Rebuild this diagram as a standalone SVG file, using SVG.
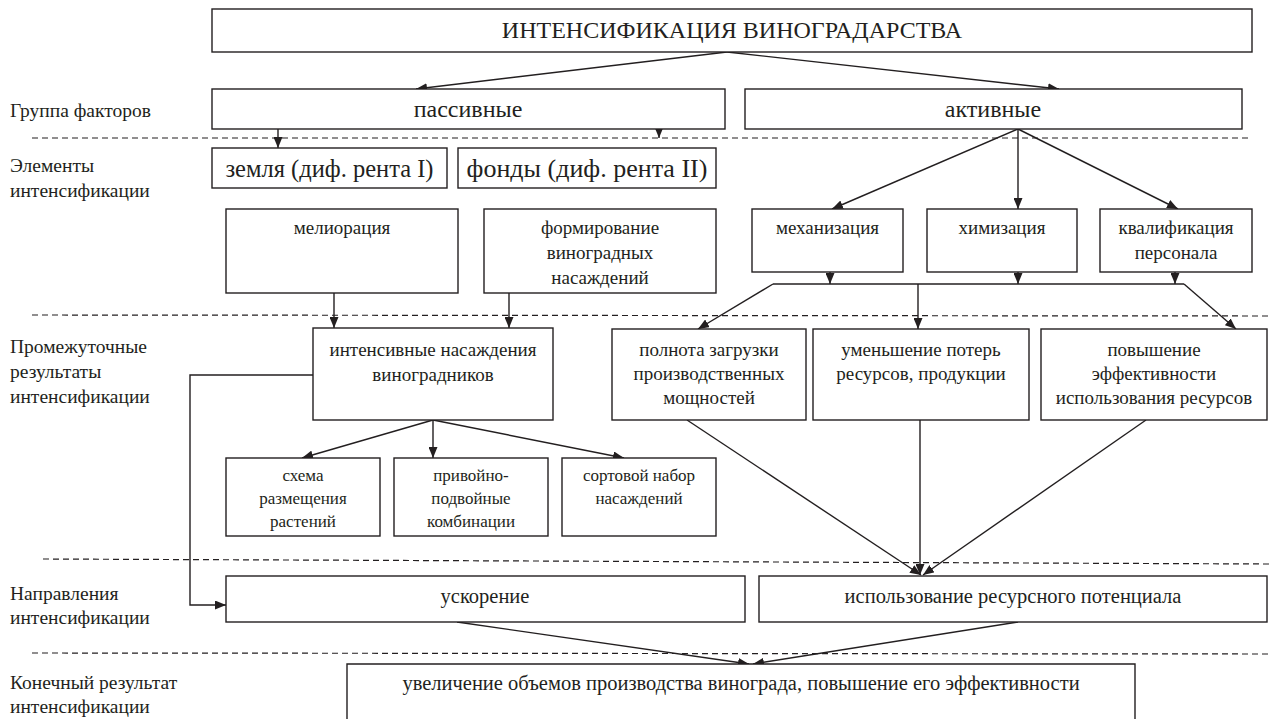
<svg xmlns="http://www.w3.org/2000/svg" width="1269" height="719" viewBox="0 0 1269 719" font-family="'Liberation Serif', 'DejaVu Serif', serif">
<defs>
<marker id="ah" markerUnits="userSpaceOnUse" markerWidth="11" markerHeight="9" refX="11" refY="4.5" orient="auto">
<path d="M0,0 L11,4.5 L0,9 z" fill="#231f20"/>
</marker>
<style>
.bx{fill:#fff;stroke:#231f20;stroke-width:1.4}
.ln{fill:none;stroke:#231f20;stroke-width:1.4}
.ar{fill:none;stroke:#231f20;stroke-width:1.4;marker-end:url(#ah)}
.dash{fill:none;stroke:#231f20;stroke-width:1.2;stroke-dasharray:6 4}
text{fill:#231f20}
.c{text-anchor:middle}
.lab{font-size:19.5px}
.t24{font-size:24px}
.t19{font-size:19px}
.t17{font-size:17px}
.t20{font-size:20.5px}
</style>
</defs>
<rect width="1269" height="719" fill="#fff"/>

<g id="levels">
<line class="dash" x1="32" y1="138" x2="1252" y2="138"/>
<line class="dash" x1="32" y1="315" x2="1269" y2="316"/>
<line class="dash" x1="43" y1="559" x2="1269" y2="564"/>
<line class="dash" x1="32" y1="653" x2="1269" y2="654"/>
</g>

<g id="labels" class="lab">
<text x="10" y="117">Группа факторов</text>
<text x="10" y="172">Элементы</text>
<text x="10" y="197">интенсификации</text>
<text x="10" y="353">Промежуточные</text>
<text x="10" y="378">результаты</text>
<text x="10" y="403">интенсификации</text>
<text x="10" y="600">Направления</text>
<text x="10" y="624">интенсификации</text>
<text x="10" y="689">Конечный результат</text>
<text x="10" y="713">интенсификации</text>
</g>

<g id="connectors">
<line class="ar" x1="727" y1="52" x2="416" y2="89"/>
<line class="ar" x1="727" y1="52" x2="1059" y2="89"/>
<line class="ar" x1="278" y1="129" x2="278" y2="148"/>
<line class="ar" x1="659" y1="129" x2="659" y2="138"/>
<line class="ar" x1="1018" y1="129" x2="832" y2="209"/>
<line class="ar" x1="1018" y1="129" x2="1018" y2="209"/>
<line class="ar" x1="1018" y1="129" x2="1178" y2="209"/>
<line class="ar" x1="334" y1="293" x2="334" y2="328"/>
<line class="ar" x1="509" y1="293" x2="509" y2="328"/>
<line class="ar" x1="830" y1="272" x2="830" y2="284"/>
<line class="ar" x1="1018" y1="272" x2="1018" y2="284"/>
<line class="ar" x1="1175" y1="272" x2="1175" y2="284"/>
<line class="ln" x1="773" y1="284" x2="1184" y2="284"/>
<line class="ar" x1="773" y1="284" x2="698" y2="329"/>
<line class="ar" x1="918" y1="284" x2="918" y2="329"/>
<line class="ar" x1="1184" y1="284" x2="1236" y2="329"/>
<polyline class="ar" points="313,375 190,375 190,605 226,605"/>
<line class="ar" x1="433" y1="420" x2="302" y2="458"/>
<line class="ar" x1="433" y1="420" x2="433" y2="458"/>
<line class="ar" x1="433" y1="420" x2="624" y2="458"/>
<line class="ar" x1="687" y1="420" x2="921" y2="575"/>
<line class="ar" x1="920" y1="420" x2="920" y2="575"/>
<line class="ar" x1="1146" y1="420" x2="923" y2="575"/>
<line class="ar" x1="457" y1="622" x2="749" y2="664"/>
<line class="ar" x1="1018" y1="622" x2="753" y2="664"/>
</g>

<g id="n-title"><rect class="bx" x="212" y="9" width="1040" height="43"/><text class="c t24" x="732" y="38">ИНТЕНСИФИКАЦИЯ ВИНОГРАДАРСТВА</text></g>
<g id="n-passive"><rect class="bx" x="212" y="89" width="513" height="40"/><text class="c t24" x="468" y="117">пассивные</text></g>
<g id="n-active"><rect class="bx" x="745" y="89" width="497" height="40"/><text class="c t24" x="993" y="117">активные</text></g>
<g id="n-land"><rect class="bx" x="212" y="148" width="235" height="40"/><text class="c" font-size="24.5" x="329.5" y="177">земля (диф. рента I)</text></g>
<g id="n-funds"><rect class="bx" x="458" y="148" width="258" height="40"/><text class="c" font-size="26" x="587" y="177">фонды (диф. рента II)</text></g>
<g id="n-melio"><rect class="bx" x="226" y="209" width="232" height="84"/><text class="c t19" x="342" y="234">мелиорация</text></g>
<g id="n-form"><rect class="bx" x="484" y="209" width="232" height="84"/><text class="c t19" x="600" y="234">формирование</text><text class="c t19" x="600" y="259">виноградных</text><text class="c t19" x="600" y="284">насаждений</text></g>
<g id="n-mech"><rect class="bx" x="752" y="209" width="151" height="63"/><text class="c t19" x="827.5" y="234">механизация</text></g>
<g id="n-chem"><rect class="bx" x="927" y="209" width="150" height="63"/><text class="c t19" x="1002" y="234">химизация</text></g>
<g id="n-qual"><rect class="bx" x="1100" y="209" width="152" height="63"/><text class="c t19" x="1176" y="234">квалификация</text><text class="c t19" x="1176" y="259">персонала</text></g>
<g id="n-intens"><rect class="bx" x="313" y="328" width="240" height="92"/><text class="c t19" x="433" y="356">интенсивные насаждения</text><text class="c t19" x="433" y="381">виноградников</text></g>
<g id="n-load"><rect class="bx" x="612" y="329" width="194" height="91"/><text class="c t19" x="709" y="356">полнота загрузки</text><text class="c t19" x="709" y="380">производственных</text><text class="c t19" x="709" y="404">мощностей</text></g>
<g id="n-loss"><rect class="bx" x="813" y="329" width="216" height="91"/><text class="c t19" x="921" y="356">уменьшение потерь</text><text class="c t19" x="921" y="380">ресурсов, продукции</text></g>
<g id="n-eff"><rect class="bx" x="1041" y="329" width="226" height="91"/><text class="c t19" x="1154" y="356">повышение</text><text class="c t19" x="1154" y="380">эффективности</text><text class="c t19" x="1154" y="404">использования ресурсов</text></g>
<g id="n-scheme"><rect class="bx" x="226" y="458" width="154" height="78"/><text class="c t17" x="303" y="481">схема</text><text class="c t17" x="303" y="504">размещения</text><text class="c t17" x="303" y="527">растений</text></g>
<g id="n-graft"><rect class="bx" x="394" y="458" width="154" height="78"/><text class="c t17" x="471" y="481">привойно-</text><text class="c t17" x="471" y="504">подвойные</text><text class="c t17" x="471" y="527">комбинации</text></g>
<g id="n-variety"><rect class="bx" x="562" y="458" width="154" height="78"/><text class="c t17" x="639" y="481">сортовой набор</text><text class="c t17" x="639" y="504">насаждений</text></g>
<g id="n-accel"><rect class="bx" x="226" y="576" width="519" height="46"/><text class="c t20" x="485" y="603">ускорение</text></g>
<g id="n-resource"><rect class="bx" x="759" y="576" width="508" height="46"/><text class="c t20" x="1013" y="603">использование ресурсного потенциала</text></g>
<g id="n-final"><path class="bx" d="M347,720 V664 H1135 V720"/><text class="c t20" x="741" y="690">увеличение объемов производства винограда, повышение его эффективности</text></g>
</svg>
